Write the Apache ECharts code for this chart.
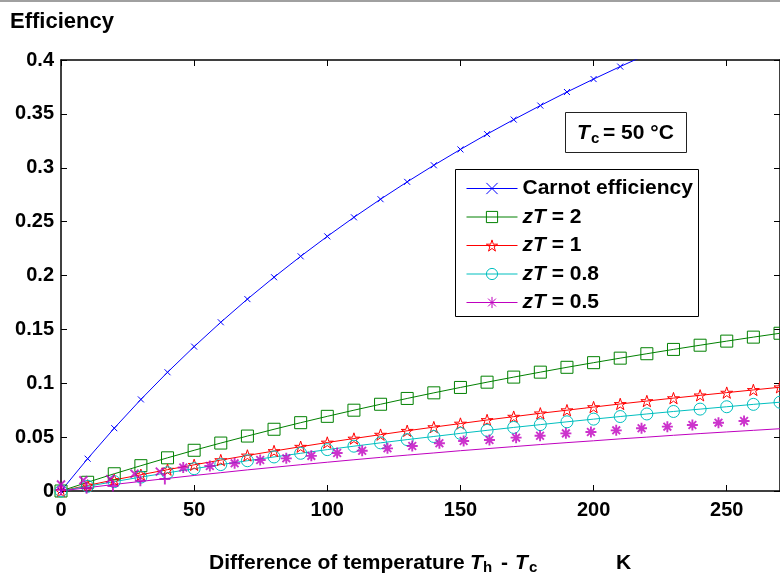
<!DOCTYPE html>
<html>
<head>
<meta charset="utf-8">
<script src="https://cdn.jsdelivr.net/npm/echarts@6/dist/echarts.min.js"></script>
<style>
html,body{margin:0;padding:0;background:#fff;}
#chart{width:780px;height:573px;}
</style>
</head>
<body>
<div id="chart"></div>
<script>
// ---- data ----
const xVals = [0,10,20,30,40,50,60,70,80,90,100,110,120,130,140,150,160,170,180,190,200,210,220,230,240,250,260,270];
const carnotY = [0,0.0300,0.0583,0.0850,0.1102,0.1340,0.1566,0.1781,0.1984,0.2178,0.2363,0.2540,0.2708,0.2869,0.3023,0.3170,0.3312,0.3447,0.3577,0.3703,0.3823,0.3939,0.4051];
const zt2Y = [0,0.0081,0.0160,0.0235,0.0308,0.0378,0.0445,0.0510,0.0573,0.0634,0.0693,0.0750,0.0805,0.0859,0.0911,0.0961,0.1010,0.1057,0.1103,0.1148,0.1191,0.1233,0.1274,0.1314,0.1353,0.1391,0.1428,0.1464];
const zt1Y = [0,0.0052,0.0103,0.0151,0.0198,0.0243,0.0287,0.0330,0.0371,0.0411,0.0450,0.0487,0.0523,0.0559,0.0593,0.0626,0.0659,0.0690,0.0721,0.0750,0.0779,0.0808,0.0835,0.0862,0.0888,0.0913,0.0938,0.0963];
const zt08Y = [0,0.0044,0.0087,0.0129,0.0169,0.0207,0.0245,0.0281,0.0316,0.0350,0.0384,0.0416,0.0447,0.0477,0.0506,0.0535,0.0563,0.0590,0.0616,0.0642,0.0667,0.0691,0.0715,0.0738,0.0760,0.0782,0.0804,0.0824];
const zt05Y = [0,0.0031,0.0061,0.0089,0.0117,0.0144,0.0170,0.0196,0.0220,0.0244,0.0267,0.0290,0.0312,0.0333,0.0353,0.0374,0.0393,0.0412,0.0431,0.0449,0.0466,0.0484,0.0500,0.0517,0.0533,0.0548,0.0563,0.0578];
// zT = 0.5 markers (drawn offset from their line in the reference)
const magStarX = [45.9,55.9,65.2,74.8,84.6,94.0,103.7,113.1,122.6,131.9,142.1,151.2,160.9,170.9,179.9,189.6,199.0,208.5,218.0,227.7,237.1,246.9,256.5];
const magStarY = [0.0218,0.0232,0.0257,0.0288,0.0303,0.0326,0.0353,0.0374,0.0396,0.0418,0.0443,0.0464,0.0473,0.0495,0.0513,0.0535,0.0548,0.0563,0.0582,0.0597,0.0613,0.0634,0.0650];
const magCrossX = [0,8.4,18.5,27.6,37.1];
const magCrossY = [0.0060,0.0100,0.0110,0.0160,0.0180];
const magPlusX = [0,9.6,19.5,29.8,39.0];
const magPlusY = [0.0010,0.0025,0.0046,0.0095,0.0111];
const seriesNames = ['Carnot efficiency','zT = 2','zT = 1','zT = 0.8','zT = 0.5'];
const xTickInterval = 50;
const yTickInterval = 0.05;

// ---- styling ----
const FONT = '"Liberation Sans", Arial, Helvetica, sans-serif';
const C_BLUE = '#0000ff', C_GREEN = '#008000', C_RED = '#ff0000', C_CYAN = '#00bfbf', C_MAG = '#bf00bf';
const P_X = 'path://M0,0L10,10M10,0L0,10';
const P_PLUS = 'path://M5,0L5,10M0,5L10,5';
const P_AST = 'path://M5,0L5,10M0,5L10,5M1.5,1.5L8.5,8.5M8.5,1.5L1.5,8.5';
const P_PENT = 'path://M5,0L6.123,3.455L9.755,3.455L6.816,5.59L7.939,9.045L5,6.91L2.061,9.045L3.184,5.59L0.245,3.455L3.877,3.455Z';

function pairs(xs, ys){ return ys.map((y,i)=>[xs[i], y]); }

function lineSeries(name, ys, color, symbol, size, extra){
  return Object.assign({
    name, type:'line', data: pairs(xVals, ys),
    symbol, symbolSize:size, symbolKeepAspect:true, showSymbol:true,
    clip:true, silent:true,
    lineStyle:{color, width:1},
    itemStyle:{color:'rgba(0,0,0,0)', borderColor:color, borderWidth:1},
    emphasis:{disabled:true}
  }, extra||{});
}
function scatterSeries(xs, ys, symbol, size){
  return {
    type:'scatter', data: pairs(xs, ys), symbol, symbolSize:size, symbolKeepAspect:false,
    clip:true, silent:true, z:3,
    itemStyle:{color:'rgba(0,0,0,0)', borderColor:C_MAG, borderWidth:1.9},
    emphasis:{disabled:true}
  };
}

const axisLine = {show:true, onZero:false, lineStyle:{color:'#000', width:1.5}};
const axisTick = {show:true, inside:true, length:6, lineStyle:{color:'#000', width:1}};
const lblStyle = {fontSize:20, fontWeight:'bold', color:'#000', fontFamily:FONT};

const chart = echarts.init(document.getElementById('chart'), null, {renderer:'canvas'});
chart.setOption({
  backgroundColor:'#fff',
  animation:false,
  grid:{left:61, top:60, width:720, height:431, containLabel:false},
  xAxis:[
    {type:'value', min:0, max:270, interval:xTickInterval, position:'bottom', axisLine, axisTick,
     axisLabel:Object.assign({margin:9, showMaxLabel:false}, lblStyle), splitLine:{show:false}},
    {type:'value', min:0, max:270, interval:xTickInterval, position:'top', axisLine, axisTick,
     axisLabel:{show:false}, splitLine:{show:false}}
  ],
  yAxis:[
    {type:'value', min:0, max:0.4, interval:yTickInterval, position:'left', axisLine, axisTick,
     axisLabel:Object.assign({margin:7}, lblStyle), splitLine:{show:false}},
    {type:'value', min:0, max:0.4, interval:yTickInterval, position:'right', axisLine, axisTick,
     axisLabel:{show:false}, splitLine:{show:false}}
  ],
  legend:{
    data:seriesNames, orient:'vertical', left:466, top:178, padding:0, z:6,
    itemWidth:51, itemHeight:14, itemGap:7.5, selectedMode:false,
    itemStyle:{color:'rgba(0,0,0,0)', borderWidth:1},
    lineStyle:{width:1},
    textStyle:{fontSize:21, fontWeight:'bold', color:'#000', fontFamily:FONT, lineHeight:21,
      rich:{it:{fontSize:21, fontWeight:'bold', fontStyle:'italic', color:'#000', fontFamily:FONT, lineHeight:21}}},
    formatter: n => n.indexOf('zT') === 0 ? '{it|zT}' + n.slice(2) : n
  },
  series:[
    lineSeries(seriesNames[0], carnotY, C_BLUE, P_X, 6),
    lineSeries(seriesNames[1], zt2Y, C_GREEN, 'rect', 12),
    lineSeries(seriesNames[2], zt1Y, C_RED, P_PENT, 12),
    lineSeries(seriesNames[3], zt08Y, C_CYAN, 'circle', 12),
    lineSeries(seriesNames[4], zt05Y, C_MAG, P_AST, 9, {showSymbol:false}),
    scatterSeries(magStarX, magStarY, P_AST, 11),
    scatterSeries(magCrossX, magCrossY, P_X, 8),
    scatterSeries(magPlusX, magPlusY, P_PLUS, 11)
  ],
  graphic:[
    {type:'rect', shape:{x:0, y:0, width:780, height:2}, style:{fill:'#a0a0a0'}, z:10},
    {type:'text', x:10, y:22, style:{text:'Efficiency', font:'bold 22px '+FONT, fill:'#000', align:'left', verticalAlign:'middle'}},
    {type:'rect', shape:{x:455.5, y:169.5, width:243, height:147}, style:{fill:'#fff', stroke:'#000', lineWidth:1}, z:4},
    {type:'rect', shape:{x:565.5, y:112.5, width:121, height:40}, style:{fill:'#fff', stroke:'#222', lineWidth:1}, z:4},
    {type:'text', x:577, y:133, z:5, style:{text:'T', font:'italic bold 21px '+FONT, fill:'#000', verticalAlign:'middle'}},
    {type:'text', x:591, y:139, z:5, style:{text:'c', font:'bold 15px '+FONT, fill:'#000', verticalAlign:'middle'}},
    {type:'text', x:603, y:133, z:5, style:{text:'= 50 °C', font:'bold 21px '+FONT, fill:'#000', verticalAlign:'middle'}},
    {type:'text', x:209, y:563, style:{text:'Difference of temperature', font:'bold 21px '+FONT, fill:'#000', verticalAlign:'middle'}},
    {type:'text', x:470, y:563, style:{text:'T', font:'italic bold 21px '+FONT, fill:'#000', verticalAlign:'middle'}},
    {type:'text', x:483, y:568, style:{text:'h', font:'bold 15px '+FONT, fill:'#000', verticalAlign:'middle'}},
    {type:'text', x:501, y:563, style:{text:'-', font:'bold 21px '+FONT, fill:'#000', verticalAlign:'middle'}},
    {type:'text', x:515, y:563, style:{text:'T', font:'italic bold 21px '+FONT, fill:'#000', verticalAlign:'middle'}},
    {type:'text', x:529, y:568, style:{text:'c', font:'bold 15px '+FONT, fill:'#000', verticalAlign:'middle'}},
    {type:'text', x:616, y:563, style:{text:'K', font:'bold 21px '+FONT, fill:'#000', verticalAlign:'middle'}}
  ]
});
</script>
</body>
</html>
